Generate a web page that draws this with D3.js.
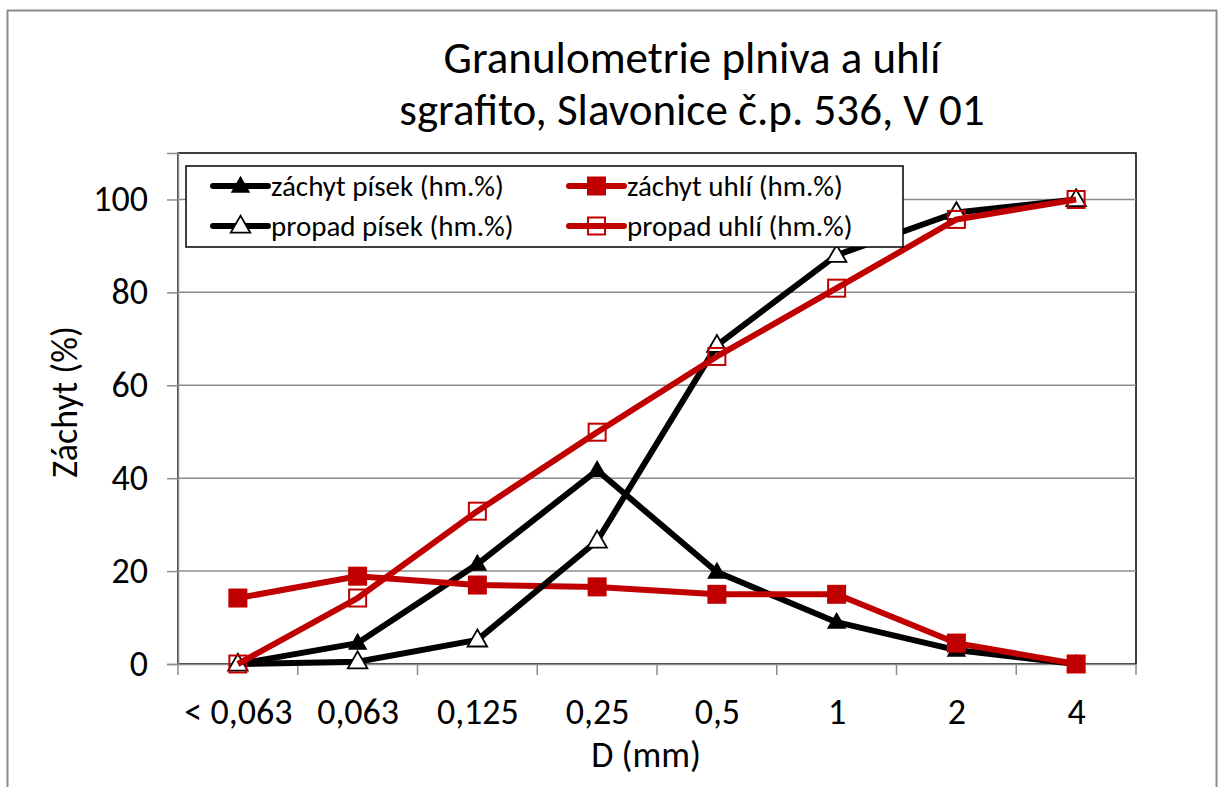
<!DOCTYPE html>
<html><head><meta charset="utf-8">
<script src="https://cdn.jsdelivr.net/npm/d3@7"></script>
<style>
body{margin:0;background:#fff;}
text{font-family:Carlito,Calibri,"Open Sans","Liberation Sans",sans-serif;fill:#000;}
</style></head>
<body><svg id="c" width="1218" height="787"></svg>
<script>
const categories = ["< 0,063","0,063","0,125","0,25","0,5","1","2","4"];
const zachytPisek = [0, 4.5, 21.5, 41.7, 19.8, 9.0, 3.0, 0];
const zachytUhli  = [14.2, 18.9, 17.0, 16.6, 15.0, 15.0, 4.5, 0];
const propadPisek = [0, 0.5, 5.2, 26.5, 68.6, 88.0, 97.2, 100];
const propadUhli  = [0, 14.2, 32.9, 49.9, 66.2, 80.9, 95.7, 100];
const yTicks = [0, 20, 40, 60, 80, 100];
const seriesNames = ["záchyt písek (hm.%)","záchyt uhlí (hm.%)","propad písek (hm.%)","propad uhlí (hm.%)"];
const titleLines = ["Granulometrie plniva a uhlí","sgrafito, Slavonice č.p. 536, V 01"];

const RED = "#C00000", GRID = "#8c8c8c";
const svg = d3.select("#c");
const L = 178, R = 1136, T = 153, B = 664;

// outer frame
svg.append("rect").attr("x",7.5).attr("y",10.5).attr("width",1209).attr("height",790)
  .attr("fill","#fff").attr("stroke",GRID).attr("stroke-width",2);

const x = d3.scalePoint().domain(categories).range([L,R]).padding(0.5);
const y = d3.scaleLinear().domain([0,110]).range([B,T]);

// plot area border
svg.append("rect").attr("x",L).attr("y",T).attr("width",R-L).attr("height",B-T)
  .attr("fill","none").attr("stroke","#000").attr("stroke-width",1.5);

// gridlines
svg.append("g").selectAll("line").data(yTicks.filter(d=>d>0)).join("line")
  .attr("x1",L).attr("x2",R).attr("y1",d=>y(d)).attr("y2",d=>y(d))
  .attr("stroke",GRID).attr("stroke-width",1.5);

// y axis
const yAxis = svg.append("g").attr("transform",`translate(${L},0)`)
  .call(d3.axisLeft(y).tickValues(yTicks).tickSize(11).tickPadding(19).tickFormat(d3.format("d")));
yAxis.select(".domain").attr("stroke",GRID).attr("stroke-width",1.5);
yAxis.selectAll(".tick line").attr("stroke",GRID).attr("stroke-width",1.5);
yAxis.selectAll(".tick text").attr("font-size",36).attr("font-family",null);

// x axis
const xAxis = svg.append("g").attr("transform",`translate(0,${B})`)
  .call(d3.axisBottom(x).tickSize(0).tickPadding(34));
xAxis.select(".domain").attr("stroke",GRID).attr("stroke-width",1.5);
xAxis.selectAll(".tick text").attr("font-size",36).attr("font-family",null);
const step = x.step();
const bounds = d3.range(categories.length+1).map(i => x(categories[0]) - step/2 + i*step);
svg.append("g").selectAll("line").data(bounds).join("line")
  .attr("x1",d=>d).attr("x2",d=>d).attr("y1",B).attr("y2",B+11)
  .attr("stroke",GRID).attr("stroke-width",1.5);

// axis titles
svg.append("text").attr("x",646).attr("y",767).attr("text-anchor","middle")
  .attr("font-size",36).text("D (mm)");
svg.append("text").attr("transform",`translate(77,402) rotate(-90)`).attr("text-anchor","middle")
  .attr("font-size",36).text("Záchyt (%)");

// title
svg.append("g").selectAll("text").data(titleLines).join("text")
  .attr("x",692).attr("y",(d,i)=>73+i*52).attr("text-anchor","middle")
  .attr("font-size",45).text(d=>d);

// series
const series = [
  {vals:zachytPisek, color:"#000", marker:"tri", filled:true},
  {vals:zachytUhli, color:RED, marker:"sq", filled:true},
  {vals:propadPisek, color:"#000", marker:"tri", filled:false},
  {vals:propadUhli, color:RED, marker:"sq", filled:false}
];
const line = d3.line().x((d,i)=>x(categories[i])).y(d=>y(d));
const triSym = d3.symbol().type(d3.symbolTriangle).size(165);
function drawMarker(g, m, filled, color, cx, cy){
  if(m==="tri"){
    g.append("path").attr("d",triSym()).attr("transform",`translate(${cx},${cy+1})`)
      .attr("fill",filled?color:"#fff").attr("stroke",color).attr("stroke-width",filled?0:1.8);
  } else {
    const s = filled?19:17;
    g.append("rect").attr("x",cx-s/2).attr("y",cy-s/2).attr("width",s).attr("height",s)
      .attr("fill",filled?color:"none").attr("stroke",color).attr("stroke-width",filled?0:2);
  }
}
series.forEach(s=>{
  const g = svg.append("g");
  g.append("path").datum(s.vals).attr("d",line).attr("fill","none")
    .attr("stroke",s.color).attr("stroke-width",6).attr("stroke-linejoin","round");
  s.vals.forEach((v,i)=>drawMarker(g,s.marker,s.filled,s.color,x(categories[i]),y(v)));
});

// legend
const lg = svg.append("g");
lg.append("rect").attr("x",186).attr("y",166).attr("width",717).attr("height",81)
  .attr("fill","#fff").attr("stroke","#000").attr("stroke-width",1.5);
const legPos = [[213,186],[569,186],[213,226],[569,226]];
legPos.forEach(([lx,ly],si)=>{
  const s = series[si];
  lg.append("line").attr("x1",lx).attr("x2",lx+55).attr("y1",ly).attr("y2",ly)
    .attr("stroke",s.color).attr("stroke-width",6).attr("stroke-linecap","round");
  drawMarker(lg,s.marker,s.filled,s.color,lx+27.5,ly);
  lg.append("text").attr("x",lx+58).attr("y",ly+10).attr("font-size",29).text(seriesNames[si]);
});
</script></body></html>
